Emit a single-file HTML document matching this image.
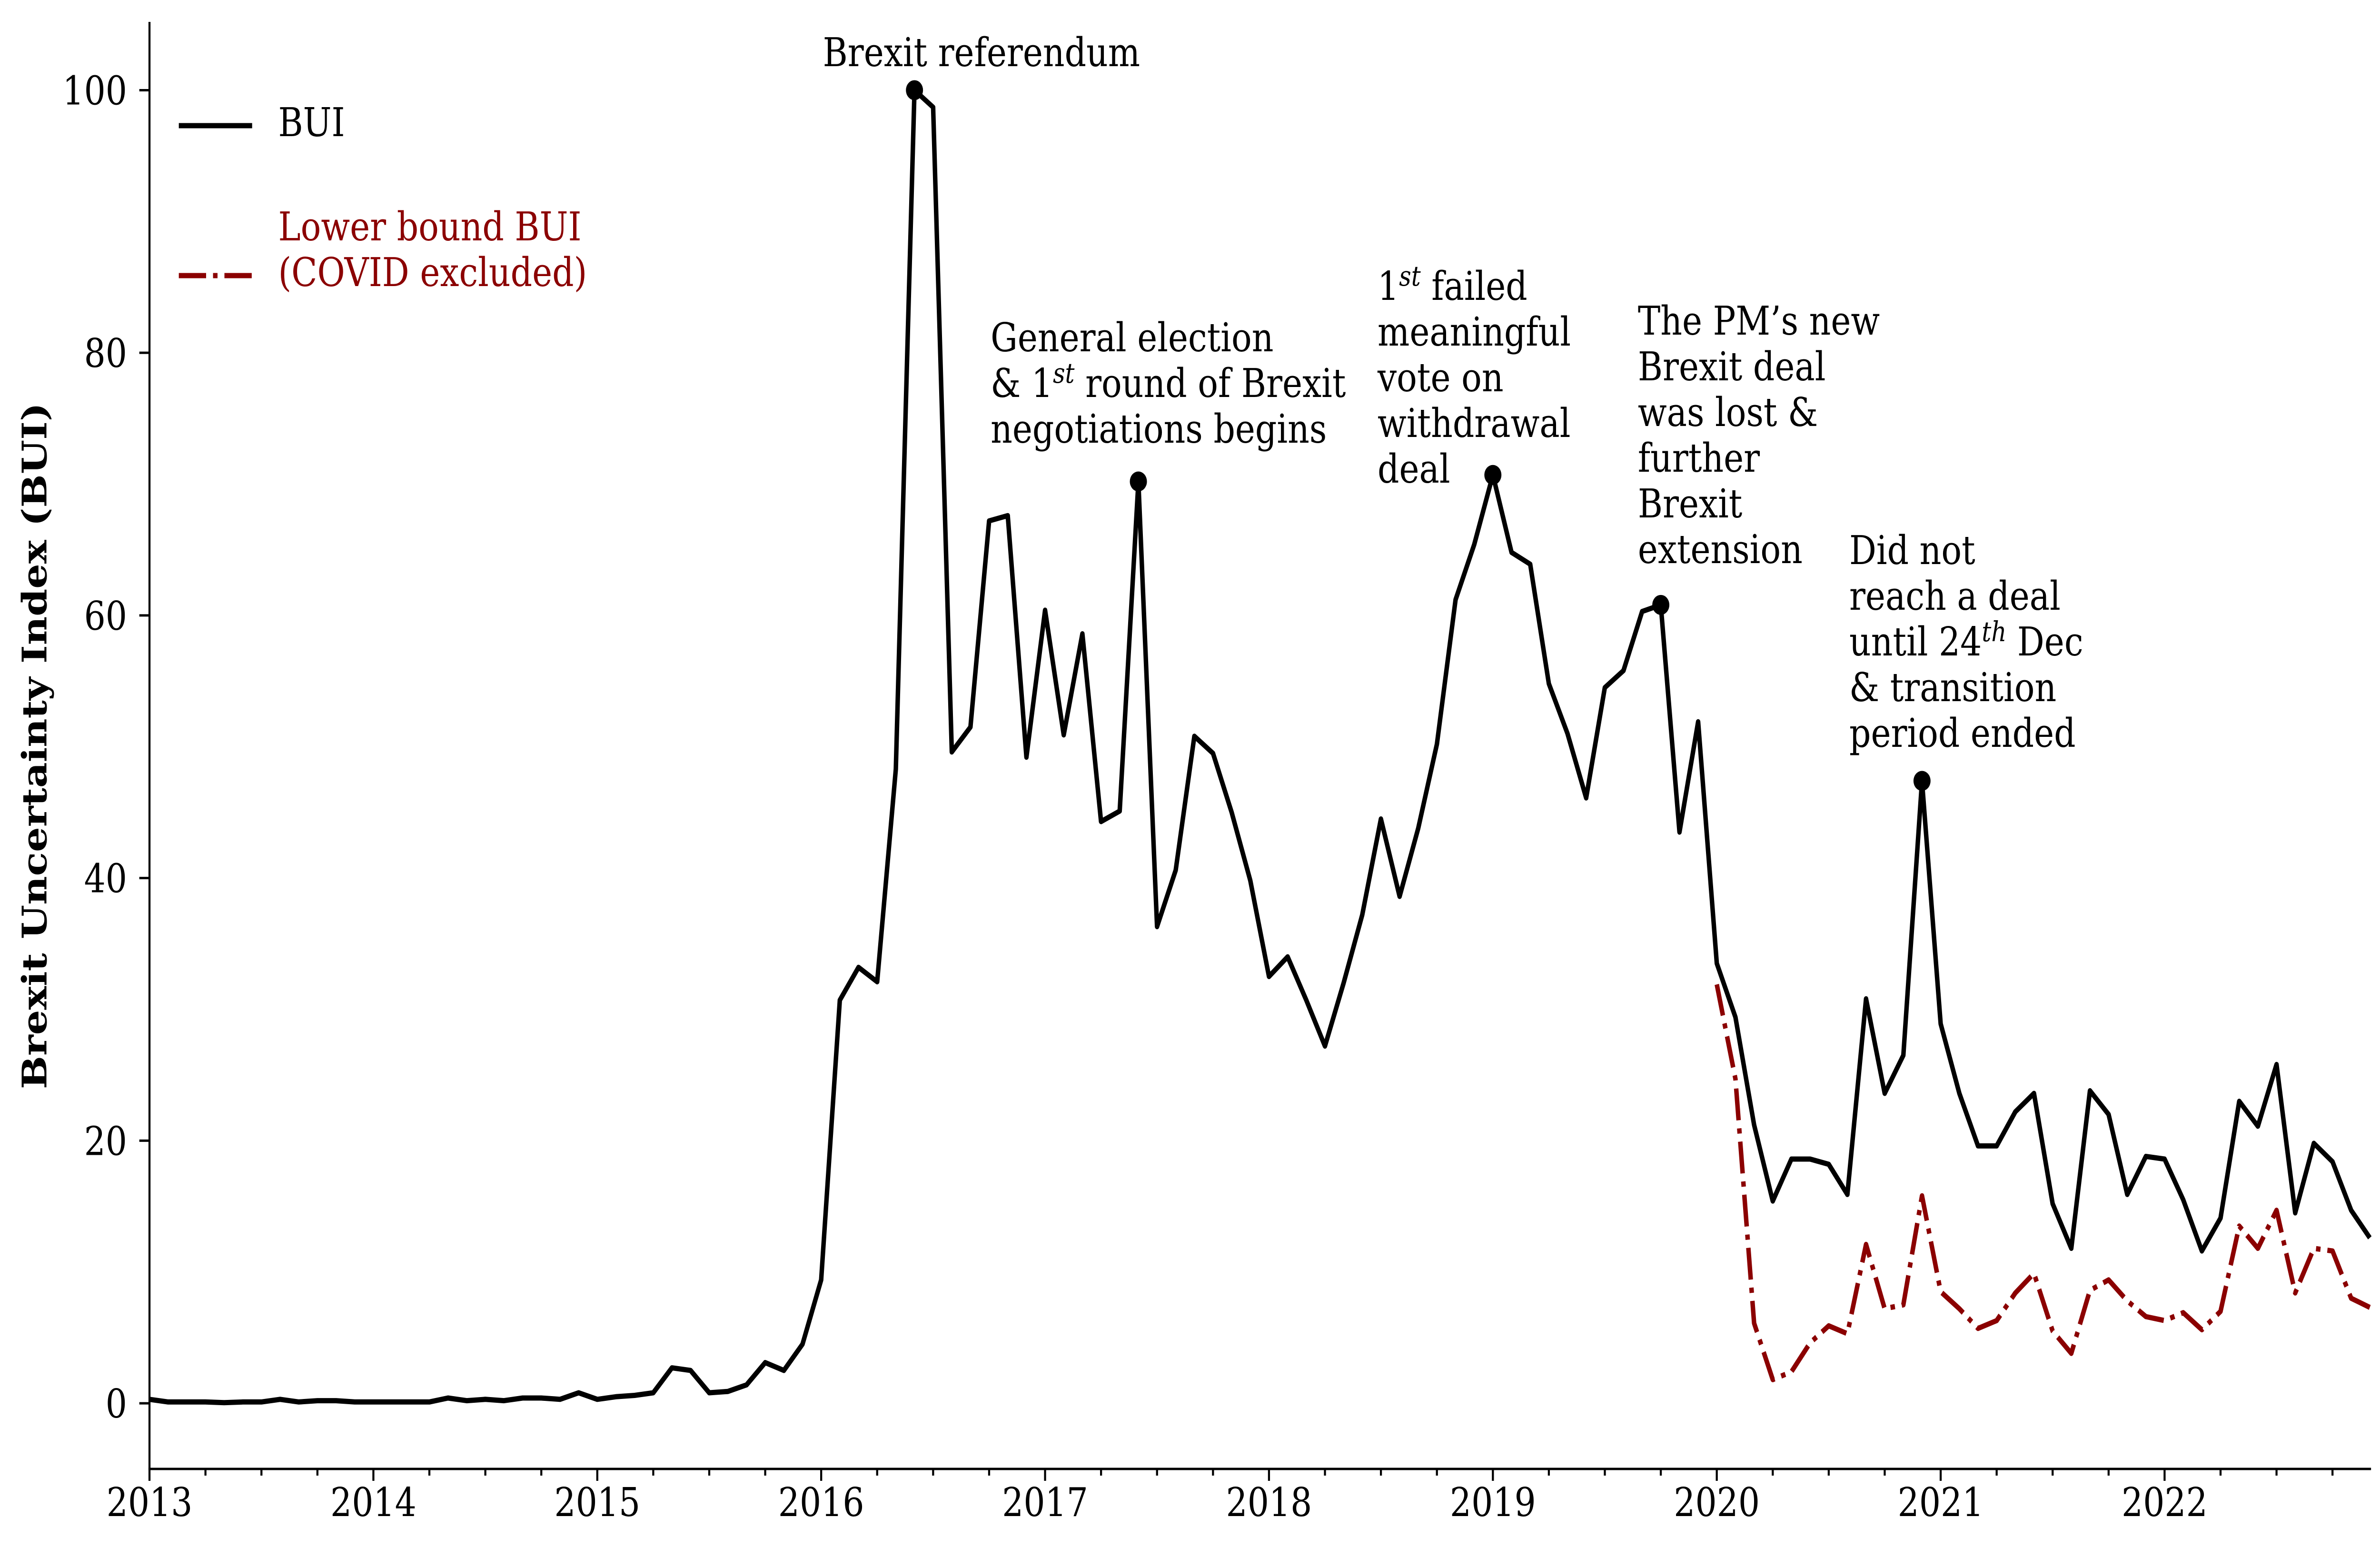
<!DOCTYPE html>
<html><head><meta charset="utf-8"><style>
html,body{margin:0;padding:0;background:#fff;overflow:hidden;width:100%;height:100%;}
svg{display:block;font-family:"DejaVu Serif","Liberation Serif",serif;width:100vw;height:100vh;}
</style></head><body>
<svg id="chart" xmlns="http://www.w3.org/2000/svg" viewBox="0 0 5843 3250" preserveAspectRatio="none">
<rect width="5843" height="3250" fill="#fff"/>
<g id="series"></g>
<g id="axes"></g>
<g id="ann" font-size="83" fill="#000">
<text x="2020" y="139">Brexit referendum</text>
<text x="2432" y="738"><tspan x="2432">General election</tspan><tspan x="2432" dy="96">&amp; 1<tspan font-style="italic" font-size="58" dy="-30">st</tspan><tspan dy="30"> round of Brexit</tspan></tspan><tspan x="2432" dy="96">negotiations begins</tspan></text>
<text x="3382" y="630"><tspan x="3382">1<tspan font-style="italic" font-size="58" dy="-30">st</tspan><tspan dy="30"> failed</tspan></tspan><tspan x="3382" dy="96">meaningful</tspan><tspan x="3382" dy="96">vote on</tspan><tspan x="3382" dy="96">withdrawal</tspan><tspan x="3382" dy="96">deal</tspan></text>
<text x="4021" y="703"><tspan x="4021">The PM’s new</tspan><tspan x="4021" dy="96">Brexit deal</tspan><tspan x="4021" dy="96">was lost &amp;</tspan><tspan x="4021" dy="96">further</tspan><tspan x="4021" dy="96">Brexit</tspan><tspan x="4021" dy="96">extension</tspan></text>
<text x="4540" y="1185"><tspan x="4540">Did not</tspan><tspan x="4540" dy="96">reach a deal</tspan><tspan x="4540" dy="96">until 24<tspan font-style="italic" font-size="58" dy="-30">th</tspan><tspan dy="30"> Dec</tspan></tspan><tspan x="4540" dy="96">&amp; transition</tspan><tspan x="4540" dy="96">period ended</tspan></text>
</g>
<g>
<line x1="439" y1="264" x2="619" y2="264" stroke="#000" stroke-width="11"/>
<text x="683" y="286" font-size="83">BUI</text>
<line x1="439" y1="579" x2="619" y2="579" stroke="#8b0000" stroke-width="11" stroke-dasharray="67,17,11,17"/>
<text x="683" y="505" font-size="83" fill="#8b0000"><tspan x="683">Lower bound BUI</tspan><tspan x="683" dy="96">(COVID excluded)</tspan></text>
</g>
<text transform="translate(114,1567) rotate(-90)" text-anchor="middle" font-size="83" font-weight="bold">Brexit Uncertainty Index (BUI)</text>
</svg>
<script>
const bui = [0.3,0.1,0.1,0.1,0.05,0.1,0.1,0.3,0.1,0.2,0.2,0.1,
0.1,0.1,0.1,0.1,0.4,0.2,0.3,0.2,0.4,0.4,0.3,0.8,
0.3,0.5,0.6,0.8,2.7,2.5,0.8,0.9,1.4,3.1,2.5,4.5,
9.4,30.7,33.2,32.1,48.3,100,98.7,49.6,51.5,67.2,67.6,49.2,
60.4,50.9,58.6,44.3,45.1,70.2,36.3,40.6,50.8,49.5,45,39.8,
32.5,34,30.7,27.2,32,37.2,44.5,38.6,43.8,50.2,61.2,65.4,
70.7,64.8,63.9,54.8,51,46.1,54.5,55.8,60.3,60.8,43.5,51.9,
33.5,29.4,21.2,15.4,18.6,18.6,18.2,15.9,30.8,23.6,26.5,47.4,
28.9,23.6,19.6,19.6,22.2,23.6,15.2,11.8,23.8,22,15.9,18.8,
18.6,15.5,11.6,14.1,23,21.1,25.8,14.5,19.8,18.4,14.7,12.6];
const lowerStart = 84;
const lowerBound = [31.9,24.7,6.1,1.8,2.4,4.6,5.9,5.3,12.1,7.2,7.5,15.8,
8.5,7.2,5.7,6.3,8.4,9.9,5.5,3.8,8.6,9.4,7.8,6.6,
6.3,6.9,5.6,7,13.5,11.8,14.7,8.4,11.8,11.6,8,7.3];
const eventIdx = [41,53,72,81,95];
const yTicks = [0,20,40,60,80,100];
const xTickLabels = ["2013","2014","2015","2016","2017","2018","2019","2020","2021","2022"];

const NS = "http://www.w3.org/2000/svg";
const X0 = 367, X1 = 5818, NPTS = 120;
const YMIN = -5, YMAX = 105.2, YB = 3086, YT = 46;
function xs(i){ return X0 + i*(X1-X0)/(NPTS-1); }
function ys(v){ return YB - (v-YMIN)*(YB-YT)/(YMAX-YMIN); }
function mk(tag, attrs, parent){ const e=document.createElementNS(NS,tag); for(const k in attrs) e.setAttribute(k,attrs[k]); parent.appendChild(e); return e; }
const series = document.getElementById('series');
const axes = document.getElementById('axes');

const p1 = mk('path',{d: bui.map((v,i)=>(i?'L':'M')+xs(i).toFixed(1)+','+ys(v).toFixed(1)).join(''), fill:'none', stroke:'#000','stroke-width':11,'stroke-linejoin':'round'}, series);


const p2 = mk('path',{d: lowerBound.map((v,i)=>(i?'L':'M')+xs(i+lowerStart).toFixed(1)+','+ys(v).toFixed(1)).join(''), fill:'none', stroke:'#8b0000','stroke-width':11,'stroke-dasharray':'67,17,11,17','stroke-linejoin':'round'}, series);


eventIdx.forEach(i=>{
  const c = mk('circle',{cx:xs(i),cy:ys(bui[i]),r:21,fill:'#000'}, series);
  
  
});

const ls = mk('line',{x1:X0,y1:YT,x2:X0,y2:YB,stroke:'#000','stroke-width':5}, axes);


const bs = mk('line',{x1:X0-2.5,y1:YB,x2:X1+3,y2:YB,stroke:'#000','stroke-width':5}, axes);



yTicks.forEach(v=>{
  const y = ys(v);
  mk('line',{x1:X0-25,y1:y,x2:X0,y2:y,stroke:'#000','stroke-width':5}, axes);
  const t = mk('text',{x:X0-55,y:y+30,'text-anchor':'end','font-size':83}, axes);
  t.textContent = v;
  
  
});
for(let i=0;i<NPTS;i+=3){
  const major = i%12===0;
  mk('line',{x1:xs(i),y1:YB,x2:xs(i),y2:YB+(major?25:14),stroke:'#000','stroke-width':5}, axes);
}
xTickLabels.forEach((lab,k)=>{
  const t = mk('text',{x:xs(k*12),y:3185,'text-anchor':'middle','font-size':83}, axes);
  t.textContent = lab;
  
  
});
</script>
</body></html>
